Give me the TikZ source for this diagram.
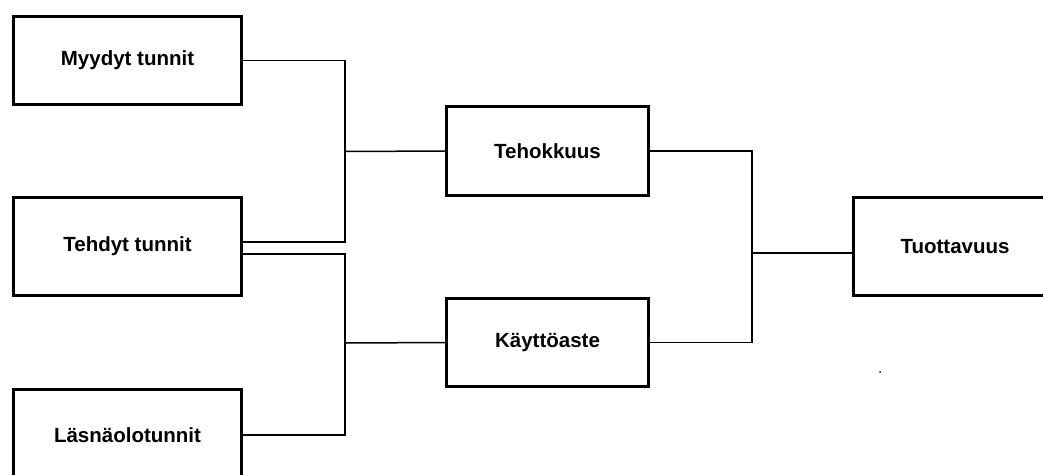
\documentclass[tikz,border=0pt]{standalone}
\usepackage{fontspec}
\setmainfont{Liberation Sans}
\begin{document}
\begin{tikzpicture}[x=1pt,y=-1pt,
  box/.style={draw=black,line width=3pt,fill=white,inner sep=0pt,outer sep=0pt,
    font=\fontsize{20.5}{24}\selectfont\bfseries},
  link/.style={draw=black,line width=1.5pt}]
\clip (0,0) rectangle (1043,474);
\fill[white] (0,0) rectangle (1043,474);
\node[box,minimum width=228pt,minimum height=88pt] (m) at (127.5,60.5) {Myydyt tunnit};
\node[box,minimum width=228pt,minimum height=98pt] (tt) at (127.5,246.5) {Tehdyt tunnit};
\node[box,minimum width=228pt,minimum height=91pt] (l) at (127.5,435) {Läsnäolotunnit};
\node[box,minimum width=202pt,minimum height=89pt] (te) at (547.5,151) {Tehokkuus};
\node[box,minimum width=202pt,minimum height=88pt] (k) at (547.5,342.5) {Käyttöaste};
\node[box,minimum width=203pt,minimum height=98pt] (tu) at (955,246.5) {Tuottavuus};
\coordinate (j1) at (345,151.5);
\coordinate (j2) at (345,343);
\coordinate (j3) at (752,253);
\draw[link] (m.east) -| (j1);
\draw[link] ([yshift=4.5pt]tt.east) -| (j1);
\draw[link] (j1) -- (te.west);
\draw[link] ([yshift=-7.5pt]tt.east) -| (j2);
\draw[link] (l.east) -| (j2);
\draw[link] (j2) -- (k.west);
\draw[link] (te.east) -| (j3);
\draw[link] (k.east) -| (j3);
\draw[link] (j3) -- ([yshift=-6.5pt]tu.west);
\fill[black] (880,372) circle (1pt);
\end{tikzpicture}
\end{document}
